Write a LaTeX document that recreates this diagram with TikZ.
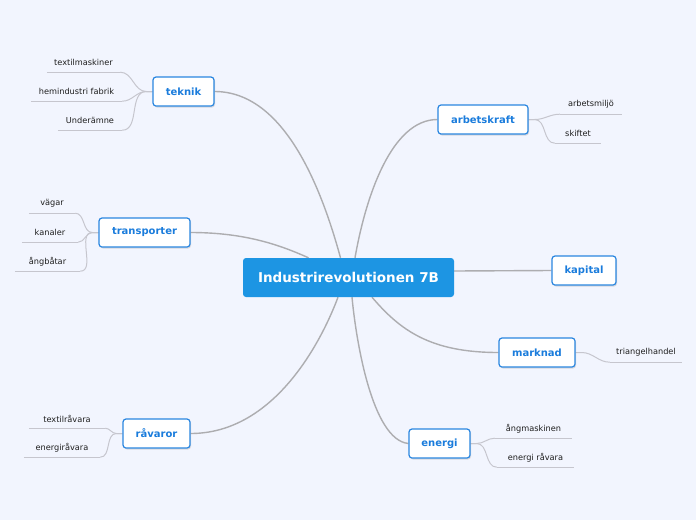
\documentclass[tikz,border=0pt]{standalone}
\usepackage{fontspec}
\setmainfont{DejaVu Sans}
\usetikzlibrary{shadows,backgrounds}
\definecolor{bg}{HTML}{F2F5FE}
\definecolor{hubblue}{HTML}{1D95E3}
\definecolor{nodeblue}{HTML}{2A86E0}
\definecolor{textblue}{HTML}{1A7CDC}
\definecolor{mainline}{HTML}{ADADB0}
\definecolor{subline}{HTML}{C6C6CE}
\definecolor{textdark}{HTML}{1E1E1E}
\begin{document}
\begin{tikzpicture}[x=1pt,y=-1pt,
  hub/.style={fill=hubblue, rounded corners=3pt, minimum width=211pt, minimum height=39pt, inner sep=0pt, text=white, font=\fontsize{13.5}{16}\selectfont\bfseries},
  topic/.style={draw=nodeblue, line width=1.2pt, fill=white, rounded corners=3pt, minimum height=29pt, inner sep=0pt, text=textblue, font=\fontsize{10}{12}\selectfont\bfseries, drop shadow={shadow xshift=1pt, shadow yshift=-1.5pt, opacity=0.25}},
  leaf/.style={inner sep=0pt, minimum height=19pt, text=textdark, font=\fontsize{8.2}{10}\selectfont},
  mainconn/.style={draw=mainline, line width=1.4pt},
  subconn/.style={draw=subline, line width=1pt},
  uline/.style={draw=subline, line width=1pt}
]
\useasboundingbox (0,0) rectangle (696,520);

% hub
\node[hub] (hub) at (348.5,277.5) {Industrirevolutionen 7B};

% topics
\node[topic, minimum width=61pt] (teknik) at (183.5,91.5) {teknik};
\node[topic, minimum width=90pt] (arbetskraft) at (483,119.5) {arbetskraft};
\node[topic, minimum width=91pt] (transporter) at (144.5,232.5) {transporter};
\node[topic, minimum width=64pt] (kapital) at (584,270.5) {kapital};
\node[topic, minimum width=76pt] (marknad) at (537,352.5) {marknad};
\node[topic, minimum width=67pt] (ravaror) at (156.5,433.5) {råvaror};
\node[topic, minimum width=61pt] (energi) at (439.5,443.5) {energi};

% leaves
\node[leaf, minimum width=73pt] (textilmaskiner) at (83.5,62.5) {textilmaskiner};
\node[leaf, minimum width=91pt] (hemindustri) at (76.5,91.5) {hemindustri fabrik};
\node[leaf, minimum width=64pt] (underamne) at (90,120.5) {Underämne};
\node[leaf, minimum width=46pt] (vagar) at (52,203.5) {vägar};
\node[leaf, minimum width=56pt] (kanaler) at (50,232.5) {kanaler};
\node[leaf, minimum width=65pt] (angbatar) at (47.5,261.5) {ångbåtar};
\node[leaf, minimum width=76pt] (textilravara) at (67,418.5) {textilråvara};
\node[leaf, minimum width=76pt] (energiravara) at (62,447.5) {energiråvara};
\node[leaf, minimum width=62pt] (arbetsmiljo) at (591,104.5) {arbetsmiljö};
\node[leaf, minimum width=46pt] (skiftet) at (578,133.5) {skiftet};
\node[leaf, minimum width=72pt] (triangel) at (646,352.5) {triangelhandel};
\node[leaf, minimum width=77pt] (angmaskinen) at (533.5,428.5) {ångmaskinen};
\node[leaf, minimum width=77pt] (energiravara2) at (535.5,457.5) {energi råvara};

\begin{scope}[on background layer]
  \fill[bg] (0,0) rectangle (696,520);
  % main connectors
  \draw[mainconn] (teknik.east) .. controls (285,91.5) and (322,190) .. ([xshift=-8pt]hub.north);
  \draw[mainconn] (arbetskraft.west) .. controls (392,119.5) and (366,195) .. ([xshift=6.5pt]hub.north);
  \draw[mainconn] (transporter.east) .. controls (245,232.5) and (280,245) .. ([xshift=-40pt]hub.north);
  \draw[mainconn] (kapital.west) -- ([yshift=6.5pt]hub.east);
  \draw[mainconn] (marknad.west) .. controls (430,352.5) and (400,330) .. ([xshift=23.5pt]hub.south);
  \draw[mainconn] (energi.west) .. controls (372,440) and (356,340) .. ([xshift=3.5pt]hub.south);
  \draw[mainconn] (ravaror.east) .. controls (275,433.5) and (322,340) .. ([xshift=-10.5pt]hub.south);
  % underlines
  \foreach \n in {textilmaskiner,hemindustri,underamne,vagar,kanaler,angbatar,textilravara,energiravara,arbetsmiljo,skiftet,triangel,angmaskinen,energiravara2}
    \draw[uline] (\n.south west) -- (\n.south east);
  % sub connectors left
  \foreach \n in {textilmaskiner,hemindustri,underamne}
    \draw[subconn] (teknik.west) -- ++(-6,0) to[out=180,in=0] (\n.south east);
  \foreach \n in {vagar,kanaler,angbatar}
    \draw[subconn] (transporter.west) -- ++(-6,0) to[out=180,in=0] (\n.south east);
  \foreach \n in {textilravara,energiravara}
    \draw[subconn] (ravaror.west) -- ++(-6,0) to[out=180,in=0] (\n.south east);
  % sub connectors right
  \foreach \n in {arbetsmiljo,skiftet}
    \draw[subconn] (arbetskraft.east) -- ++(6,0) to[out=0,in=180] (\n.south west);
  \draw[subconn] (marknad.east) -- ++(6,0) to[out=0,in=180] (triangel.south west);
  \foreach \n in {angmaskinen,energiravara2}
    \draw[subconn] (energi.east) -- ++(6,0) to[out=0,in=180] (\n.south west);
\end{scope}
\end{tikzpicture}
\end{document}
